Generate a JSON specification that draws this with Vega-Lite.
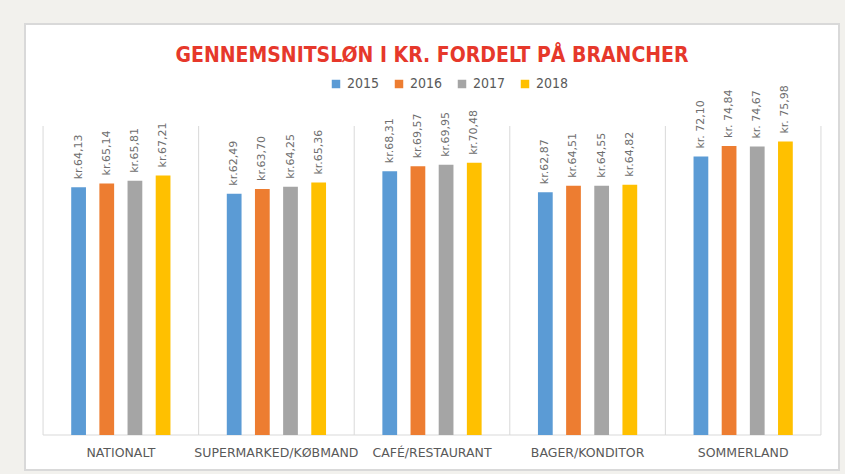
{
  "$schema": "https://vega.github.io/schema/vega-lite/v6.json",
  "width": 814,
  "height": 446,
  "autosize": {"type": "none"},
  "padding": {"left": 25, "top": 24, "right": 6, "bottom": 4},
  "background": "#f2f1ed",
  "config": {
    "view": {"fill": "white", "stroke": "#d9d9d9", "strokeWidth": 2},
    "font": "DejaVu Sans"
  },
  "title": {
    "text": "GENNEMSNITSLØN I KR. FORDELT PÅ BRANCHER",
    "color": "#e6382b",
    "font": "Liberation Sans Narrow, DejaVu Sans Condensed",
    "fontSize": 21,
    "fontWeight": "bold",
    "anchor": "middle",
    "frame": "group",
    "baseline": "alphabetic",
    "offset": 0,
    "dy": 59
  },
  "datasets": {
    "bars": [
      {"branche": "NATIONALT", "år": "2015", "løn": 64.13, "label": "kr.64,13"},
      {"branche": "NATIONALT", "år": "2016", "løn": 65.14, "label": "kr.65,14"},
      {"branche": "NATIONALT", "år": "2017", "løn": 65.81, "label": "kr.65,81"},
      {"branche": "NATIONALT", "år": "2018", "løn": 67.21, "label": "kr.67,21"},
      {"branche": "SUPERMARKED/KØBMAND", "år": "2015", "løn": 62.49, "label": "kr.62,49"},
      {"branche": "SUPERMARKED/KØBMAND", "år": "2016", "løn": 63.70, "label": "kr.63,70"},
      {"branche": "SUPERMARKED/KØBMAND", "år": "2017", "løn": 64.25, "label": "kr.64,25"},
      {"branche": "SUPERMARKED/KØBMAND", "år": "2018", "løn": 65.36, "label": "kr.65,36"},
      {"branche": "CAFÉ/RESTAURANT", "år": "2015", "løn": 68.31, "label": "kr.68,31"},
      {"branche": "CAFÉ/RESTAURANT", "år": "2016", "løn": 69.57, "label": "kr.69,57"},
      {"branche": "CAFÉ/RESTAURANT", "år": "2017", "løn": 69.95, "label": "kr.69,95"},
      {"branche": "CAFÉ/RESTAURANT", "år": "2018", "løn": 70.48, "label": "kr.70,48"},
      {"branche": "BAGER/KONDITOR", "år": "2015", "løn": 62.87, "label": "kr.62,87"},
      {"branche": "BAGER/KONDITOR", "år": "2016", "løn": 64.51, "label": "kr.64,51"},
      {"branche": "BAGER/KONDITOR", "år": "2017", "løn": 64.55, "label": "kr.64,55"},
      {"branche": "BAGER/KONDITOR", "år": "2018", "løn": 64.82, "label": "kr.64,82"},
      {"branche": "SOMMERLAND", "år": "2015", "løn": 72.10, "label": "kr. 72,10"},
      {"branche": "SOMMERLAND", "år": "2016", "løn": 74.84, "label": "kr. 74,84"},
      {"branche": "SOMMERLAND", "år": "2017", "løn": 74.67, "label": "kr. 74,67"},
      {"branche": "SOMMERLAND", "år": "2018", "løn": 75.98, "label": "kr. 75,98"}
    ],
    "cats": [
      {"branche": "NATIONALT"},
      {"branche": "SUPERMARKED/KØBMAND"},
      {"branche": "CAFÉ/RESTAURANT"},
      {"branche": "BAGER/KONDITOR"},
      {"branche": "SOMMERLAND"}
    ]
  },
  "layer": [
    {
      "data": {"name": "cats"},
      "mark": {"type": "rule", "color": "#d9d9d9", "strokeWidth": 1},
      "encoding": {
        "x": {
          "field": "branche", "type": "nominal", "bandPosition": 0,
          "scale": {
            "domain": ["NATIONALT", "SUPERMARKED/KØBMAND", "CAFÉ/RESTAURANT", "BAGER/KONDITOR", "SOMMERLAND"],
            "paddingInner": 0, "paddingOuter": 0.116
          },
          "axis": null
        },
        "y": {"datum": 0, "type": "quantitative", "scale": {"domain": [-9.06, 106.41], "zero": false, "nice": false}, "axis": null},
        "y2": {"datum": 80}
      }
    },
    {
      "data": {"name": "cats"},
      "transform": [{"filter": "datum.branche === 'SOMMERLAND'"}],
      "mark": {"type": "rule", "color": "#d9d9d9", "strokeWidth": 1},
      "encoding": {
        "x": {"field": "branche", "type": "nominal", "bandPosition": 1},
        "y": {"datum": 0, "type": "quantitative"},
        "y2": {"datum": 80}
      }
    },
    {
      "data": {"name": "cats"},
      "mark": {"type": "rule", "color": "#d9d9d9", "strokeWidth": 1},
      "encoding": {
        "x": {"field": "branche", "type": "nominal", "bandPosition": 0},
        "x2": {"field": "branche", "bandPosition": 1},
        "y": {"datum": 0, "type": "quantitative"}
      }
    },
    {
      "data": {"name": "bars"},
      "mark": {"type": "bar"},
      "encoding": {
        "x": {"field": "branche", "type": "nominal"},
        "xOffset": {"field": "år", "type": "nominal", "scale": {"paddingInner": 0.476, "paddingOuter": 1.152}},
        "y": {"field": "løn", "type": "quantitative"},
        "y2": {"datum": 0},
        "color": {
          "field": "år", "type": "nominal",
          "scale": {"domain": ["2015", "2016", "2017", "2018"], "range": ["#5b9bd5", "#ed7d31", "#a5a5a5", "#ffc000"]},
          "legend": {
            "title": null, "orient": "none", "direction": "horizontal",
            "legendX": 304, "legendY": 53,
            "symbolType": "square", "symbolSize": 72, "symbolStrokeWidth": 0,
            "labelFont": "DejaVu Sans Condensed", "labelFontSize": 14, "labelColor": "#595959",
            "labelOffset": 4, "columnPadding": 12
          }
        }
      }
    },
    {
      "data": {"name": "bars"},
      "mark": {"type": "text", "angle": 270, "align": "left", "baseline": "middle", "dx": 8, "fontSize": 11, "color": "#6e6e6e"},
      "encoding": {
        "x": {"field": "branche", "type": "nominal"},
        "xOffset": {"field": "år", "type": "nominal"},
        "y": {"field": "løn", "type": "quantitative"},
        "text": {"field": "label", "type": "nominal"}
      }
    },
    {
      "data": {"name": "cats"},
      "mark": {"type": "text", "baseline": "middle", "dy": 18, "fontSize": 12.5, "color": "#595959"},
      "encoding": {
        "x": {"field": "branche", "type": "nominal"},
        "y": {"datum": 0, "type": "quantitative"},
        "text": {"field": "branche", "type": "nominal"}
      }
    }
  ]
}
